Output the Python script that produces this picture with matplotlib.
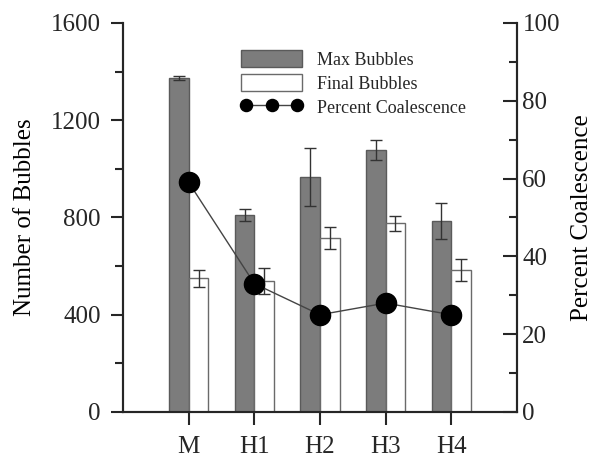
import numpy as np
import matplotlib
matplotlib.use('Agg')
import matplotlib.pyplot as plt
from matplotlib.ticker import MultipleLocator

# bubble counts per sample and coalescence percentage
samples = ['M', 'H1', 'H2', 'H3', 'H4']
max_bubbles = [1374, 810, 967, 1078, 786]
max_err = [8, 25, 120, 40, 75]
final_bubbles = [551, 539, 716, 776, 584]
final_err = [35, 55, 45, 30, 45]
pct_coalescence = [59, 33, 25, 28, 25]

plt.rcParams['font.family'] = 'Liberation Serif'
ink = '#262626'
plt.rcParams['text.color'] = ink
plt.rcParams['axes.edgecolor'] = ink
plt.rcParams['xtick.color'] = ink
plt.rcParams['ytick.color'] = ink

fig = plt.figure(figsize=(5.92, 4.59), dpi=100)
ax = fig.add_axes([0.208, 0.1024, 0.665, 0.8475])
ax2 = ax.twinx()

x = np.arange(1, len(samples) + 1)
w = 0.3

b1 = ax.bar(x - w / 2, max_bubbles, w, color='#7c7c7c', edgecolor='#5a5a5a',
            linewidth=1, label='Max Bubbles', zorder=2)
b2 = ax.bar(x + w / 2, final_bubbles, w, color='white', edgecolor='#6a6a6a',
            linewidth=1, label='Final Bubbles', zorder=2)
ax.errorbar(x - w / 2, max_bubbles, yerr=max_err, fmt='none', ecolor='#333333',
            elinewidth=1, capsize=4, capthick=1, zorder=3)
ax.errorbar(x + w / 2, final_bubbles, yerr=final_err, fmt='none', ecolor='#333333',
            elinewidth=1, capsize=4, capthick=1, zorder=3)

ln, = ax2.plot(x, pct_coalescence, color='#444444', lw=1, marker='o',
               markersize=14.5, markerfacecolor='black', markeredgecolor='black',
               label='Percent Coalescence', zorder=4)

ax.set_xlim(0, 6)
ax.set_ylim(0, 1600)
ax2.set_ylim(0, 100)
ax.set_xticks(x)
ax.set_xticklabels(samples, fontsize=18)
ax.yaxis.set_major_locator(MultipleLocator(400))
ax.yaxis.set_minor_locator(MultipleLocator(200))
ax2.yaxis.set_major_locator(MultipleLocator(20))
ax2.yaxis.set_minor_locator(MultipleLocator(10))

for a in (ax, ax2):
    a.spines['top'].set_visible(False)
    for s in a.spines.values():
        s.set_linewidth(1.5)

# left and bottom ticks point out, right axis ticks point in
ax.tick_params(axis='y', which='major', direction='out', length=9,
               width=1.5, labelsize=18, pad=7)
ax.tick_params(axis='x', which='major', direction='out', length=9,
               width=1.5, labelsize=18, pad=8)
ax.tick_params(axis='y', which='minor', direction='out', length=6, width=1.5)
ax2.tick_params(axis='y', which='major', direction='in', length=10,
                width=1.5, labelsize=18, pad=4)
ax2.tick_params(axis='y', which='minor', direction='in', length=6, width=1.5)

ax.set_ylabel('Number of Bubbles', fontsize=18, labelpad=11)
ax2.set_ylabel('Percent Coalescence', fontsize=18, labelpad=8)

ax2.legend([b1, b2, ln], ['Max Bubbles', 'Final Bubbles', 'Percent Coalescence'],
           loc='upper left', bbox_to_anchor=(0.2995, 0.93), frameon=False,
           fontsize=13, handlelength=3.4, handleheight=1.05, handletextpad=0.8,
           labelspacing=0.3, borderpad=0, borderaxespad=0, numpoints=3,
           markerscale=0.6)

fig.savefig('out.png', dpi=100)
